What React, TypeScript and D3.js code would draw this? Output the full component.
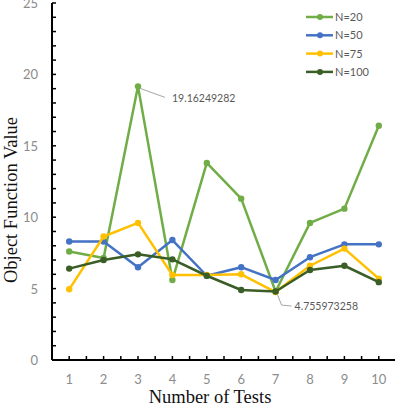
import React, {useEffect, useRef} from 'react';
import * as d3 from 'd3';

const tests = [1, 2, 3, 4, 5, 6, 7, 8, 9, 10];
const seriesNames = ['N=20', 'N=50', 'N=75', 'N=100'];
const seriesColors = ['#70AD47', '#4472C4', '#FFC000', '#3B5E26'];
const n20 = [7.6, 7.15, 19.16249282, 5.6, 13.8, 11.3, 4.8, 9.6, 10.6, 16.4];
const n50 = [8.3, 8.3, 6.5, 8.4, 5.9, 6.5, 5.6, 7.2, 8.1, 8.1];
const n75 = [4.95, 8.65, 9.6, 5.95, 5.95, 6.0, 4.755973258, 6.6, 7.8, 5.7];
const n100 = [6.4, 7.0, 7.4, 7.05, 5.9, 4.9, 4.8, 6.3, 6.6, 5.45];
const yTicks = [0, 5, 10, 15, 20, 25];

const App = () => {
  const ref = useRef<SVGSVGElement>(null);

  useEffect(() => {
    const svg = d3.select(ref.current);
    svg.selectAll('*').remove();

    const left = 52, right = 396, top = 3, bottom = 360;
    const x = d3.scaleBand<number>().domain(tests).range([left, right]);
    const y = d3.scaleLinear().domain([0, 25]).range([bottom, top]);
    const cx = (d: number) => x(d)! + x.bandwidth() / 2;

    const g = svg.append('g');

    // y axis: line + inward minor ticks every unit
    g.append('line')
      .attr('x1', left).attr('x2', left)
      .attr('y1', y(25)).attr('y2', bottom)
      .attr('stroke', '#000').attr('stroke-width', 2);
    g.selectAll('.ytick')
      .data(d3.range(0, 26))
      .enter().append('line')
      .attr('x1', left).attr('x2', left + 4)
      .attr('y1', d => y(d)).attr('y2', d => y(d))
      .attr('stroke', '#000').attr('stroke-width', 1.5);
    g.selectAll('.ylab')
      .data(yTicks)
      .enter().append('text')
      .attr('x', 38).attr('y', d => y(d) + 5)
      .attr('text-anchor', 'end')
      .attr('fill', '#8c8c8c')
      .style('font-family', 'Lato, sans-serif')
      .style('font-size', '13px')
      .text(d => d);

    // x axis with ticks at categories and between them
    g.append('line')
      .attr('x1', left).attr('x2', right)
      .attr('y1', bottom).attr('y2', bottom)
      .attr('stroke', '#000').attr('stroke-width', 2);
    const half = d3.range(0, 21).map(i => left + i * x.bandwidth() / 2);
    g.selectAll('.xtick')
      .data(half)
      .enter().append('line')
      .attr('x1', d => d).attr('x2', d => d)
      .attr('y1', bottom).attr('y2', bottom - 4)
      .attr('stroke', '#000').attr('stroke-width', 1.5);
    g.selectAll('.xlab')
      .data(tests)
      .enter().append('text')
      .attr('x', d => cx(d)).attr('y', 384)
      .attr('text-anchor', 'middle')
      .attr('fill', '#8c8c8c')
      .style('font-family', 'Lato, sans-serif')
      .style('font-size', '13px')
      .text(d => d);

    // axis titles
    svg.append('text')
      .attr('transform', `translate(17,200) rotate(-90)`)
      .attr('text-anchor', 'middle')
      .style('font-family', '"Liberation Serif", serif')
      .style('font-size', '18.5px')
      .attr('fill', '#111')
      .text('Object Function Value');
    svg.append('text')
      .attr('x', 210).attr('y', 403)
      .attr('text-anchor', 'middle')
      .style('font-family', '"Liberation Serif", serif')
      .style('font-size', '18.5px')
      .attr('fill', '#111')
      .text('Number of Tests');

    // series
    const allSeries = [n20, n50, n75, n100];
    const line = d3.line<number>()
      .x((d, i) => cx(tests[i]))
      .y(d => y(d));

    [0, 1, 2, 3].forEach(s => {
      const vals = allSeries[s];
      const color = seriesColors[s];
      g.append('path')
        .datum(vals)
        .attr('d', line)
        .attr('fill', 'none')
        .attr('stroke', color)
        .attr('stroke-width', 2.5)
        .attr('stroke-linejoin', 'round');
      g.selectAll(`.pt${s}`)
        .data(vals)
        .enter().append('circle')
        .attr('cx', (d, i) => cx(tests[i]))
        .attr('cy', d => y(d))
        .attr('r', 3.2)
        .attr('fill', color);
    });

    // data labels with leader lines
    const ann = [
      {v: n20[2], t: tests[2], pts: [[2, 2], [27, 11]], tx: 34, ty: 16, text: '19.16249282'},
      {v: n75[6], t: tests[6], pts: [[2, 3], [6, 13], [16, 14]], tx: 19, ty: 18, text: '4.755973258'},
    ];
    ann.forEach(a => {
      const px = cx(a.t), py = y(a.v);
      g.append('path')
        .attr('d', 'M' + a.pts.map(p => `${px + p[0]},${py + p[1]}`).join('L'))
        .attr('fill', 'none')
        .attr('stroke', '#a6a6a6')
        .attr('stroke-width', 1);
      g.append('text')
        .attr('x', px + a.tx).attr('y', py + a.ty)
        .attr('fill', '#595959')
        .style('font-family', 'Lato, sans-serif')
        .style('font-size', '10.5px')
        .text(a.text);
    });

    // legend
    const lg = svg.append('g');
    seriesNames.forEach((name, i) => {
      const ly = 17 + i * 18.3;
      lg.append('line')
        .attr('x1', 306).attr('x2', 333)
        .attr('y1', ly).attr('y2', ly)
        .attr('stroke', seriesColors[i]).attr('stroke-width', 2.5);
      lg.append('circle')
        .attr('cx', 320).attr('cy', ly).attr('r', 3)
        .attr('fill', seriesColors[i]);
      lg.append('text')
        .attr('x', 335).attr('y', ly + 4)
        .attr('fill', '#595959')
        .style('font-family', 'Lato, sans-serif')
        .style('font-size', '11px')
        .text(name);
    });
  }, []);

  return (
    <svg ref={ref} width={395} height={407}
      style={{position: 'absolute', left: 0, top: 0, background: '#fff'}} />
  );
};

export default App;
